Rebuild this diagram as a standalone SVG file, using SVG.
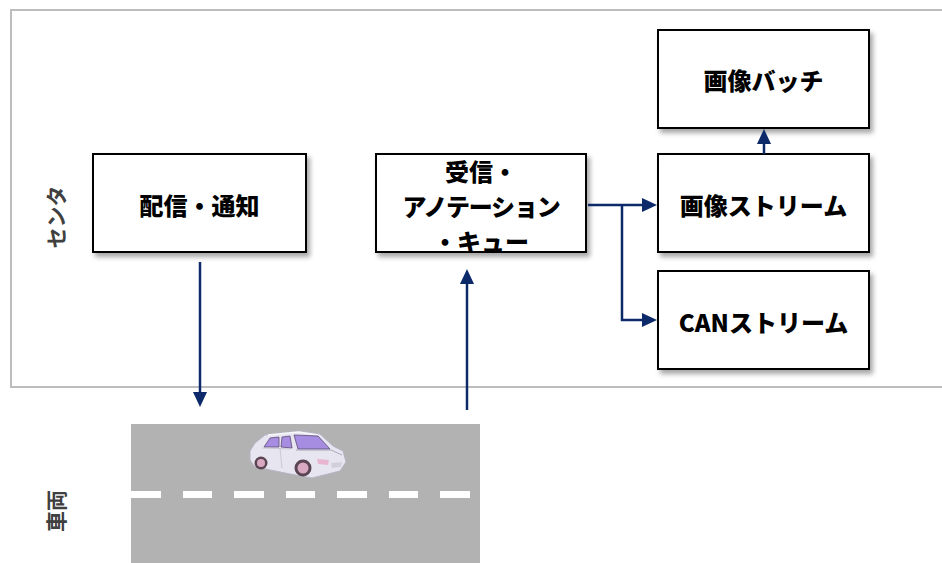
<svg xmlns="http://www.w3.org/2000/svg" width="942" height="563" viewBox="0 0 942 563">
  <style>
    .box { fill: #ffffff; stroke: #000000; stroke-width: 2; filter: url(#shadow); }
    .label { font-family: "Noto Sans CJK JP", "Noto Sans", sans-serif; font-weight: 900; font-size: 24px; fill: #000000; text-anchor: middle; dominant-baseline: central; }
    .tight { letter-spacing: -1.2px; }
    .side { font-family: "Noto Sans CJK JP", "Noto Sans", sans-serif; font-weight: bold; font-size: 21px; fill: #404040; text-anchor: middle; dominant-baseline: central; }
    .link { fill: none; stroke: #0c2a6a; stroke-width: 2.5; marker-end: url(#arrow); }
    .dash { fill: #ffffff; }
  </style>
  <defs>
    <filter id="shadow" x="-10%" y="-10%" width="130%" height="140%">
      <feDropShadow dx="3" dy="4" stdDeviation="2.5" flood-color="#000000" flood-opacity="0.35"/>
    </filter>
    <marker id="arrow" markerUnits="userSpaceOnUse" markerWidth="16" markerHeight="14" viewBox="0 0 16 14" refX="1" refY="7" orient="auto">
      <path d="M0,0 L15,7 L0,14 Z" fill="#0c2a6a"/>
    </marker>
  </defs>

  <!-- centre area frame -->
  <rect x="11" y="10" width="945" height="377" fill="#ffffff" stroke="#bdbdbd" stroke-width="2"/>

  <!-- side labels -->
  <text class="side" transform="translate(55,217) rotate(-90)">センタ</text>
  <text class="side" transform="translate(55,511) rotate(-90)">車両</text>

  <!-- road -->
  <g id="road">
    <rect x="131" y="424" width="349" height="139" fill="#b2b2b2"/>
    <rect class="dash" x="131" y="491" width="30" height="7"/>
    <rect class="dash" x="183" y="491" width="29" height="7"/>
    <rect class="dash" x="234" y="491" width="30" height="7"/>
    <rect class="dash" x="286" y="491" width="29" height="7"/>
    <rect class="dash" x="337" y="491" width="30" height="7"/>
    <rect class="dash" x="389" y="491" width="29" height="7"/>
    <rect class="dash" x="440" y="491" width="30" height="7"/>
  </g>

  <!-- car -->
  <g id="car">
    <!-- body -->
    <path d="M250,451 L255,443 L265,435 L280,433 L300,431 L320,434 L333,446 L343,451 L346,462 L340,471 L312,478 L290,474 L270,470 L254,466 L250,460 Z" fill="#e7e5f0" stroke="#b6b3c6" stroke-width="1"/>
    <!-- roof highlight -->
    <path d="M268,435 L298,432 L318,435" fill="none" stroke="#f7f6fb" stroke-width="1.5"/>
    <!-- side windows -->
    <path d="M264,447 L270,438 L279,437 L279,447 Z" fill="#a68de2" stroke="#5e4a74" stroke-width="0.8"/>
    <path d="M281,447 L282,437 L290,436 L292,448 Z" fill="#a68de2" stroke="#5e4a74" stroke-width="0.8"/>
    <!-- windshield -->
    <path d="M294,435 L318,436 L330,449 L298,449 Z" fill="#a68de2" stroke="#5e4a74" stroke-width="0.8"/>
    <!-- hood and door lines -->
    <path d="M296,450 L331,450 L342,455" fill="none" stroke="#9d9aad" stroke-width="0.8"/>
    <path d="M280,448 L282,468 M262,448 L290,449" fill="none" stroke="#c3c0d1" stroke-width="0.8"/>
    <!-- headlight and grille -->
    <path d="M317,459 L329,460 L328,465 L318,464 Z" fill="#e8b6d0"/>
    <path d="M331,463 L342,462 L341,467 L332,468 Z" fill="#d3d0dc"/>
    <!-- wheels -->
    <circle cx="261" cy="463" r="6.5" fill="#5a4652"/>
    <circle cx="261" cy="463" r="4" fill="#d9a9c2"/>
    <circle cx="303" cy="468" r="8.5" fill="#5a4652"/>
    <circle cx="303" cy="468" r="5.5" fill="#d9a9c2"/>
  </g>

  <!-- nodes -->
  <g id="deliver">
    <rect class="box" x="93" y="154" width="213" height="98"/>
    <text class="label" x="199.5" y="204">配信・通知</text>
  </g>
  <g id="receive">
    <rect class="box" x="376" y="154" width="210" height="98"/>
    <text class="label" x="481" y="170">受信・</text>
    <text class="label tight" x="481" y="205">アノテーション</text>
    <text class="label" x="481" y="240">・キュー</text>
  </g>
  <g id="image-batch">
    <rect class="box" x="658" y="30" width="211" height="98"/>
    <text class="label" x="763.5" y="79">画像バッチ</text>
  </g>
  <g id="image-stream">
    <rect class="box" x="658" y="154" width="211" height="98"/>
    <text class="label" x="763.5" y="204">画像ストリーム</text>
  </g>
  <g id="can-stream">
    <rect class="box" x="658" y="271" width="211" height="98"/>
    <text class="label" x="763.5" y="321">CANストリーム</text>
  </g>

  <!-- connectors -->
  <g id="connectors">
    <path class="link" d="M200,262 L200,393"/>
    <path class="link" d="M467,410 L467,283"/>
    <path class="link" d="M588,205 L643,205"/>
    <path class="link" d="M622,205 L622,320 L643,320"/>
    <path class="link" d="M764,154 L764,143"/>
  </g>
</svg>
